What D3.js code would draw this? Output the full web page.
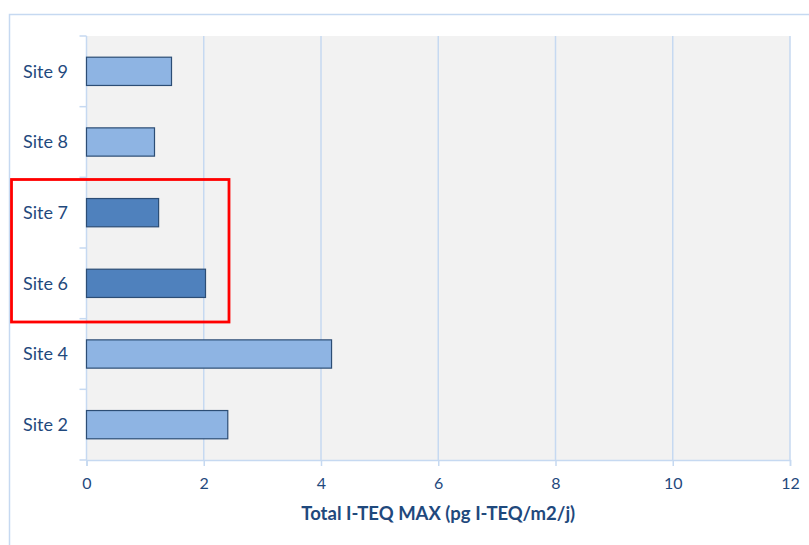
<!DOCTYPE html>
<html>
<head>
<meta charset="utf-8">
<script src="https://cdn.jsdelivr.net/npm/d3@7"></script>
<style>
  body { margin: 0; background: #fff; }
  text { font-family: Lato, "Open Sans", sans-serif; }
</style>
</head>
<body>
<div id="chart"></div>
<script>
// Data
const sites = ["Site 9", "Site 8", "Site 7", "Site 6", "Site 4", "Site 2"];
const values = [1.45, 1.16, 1.23, 2.03, 4.18, 2.41];
const highlighted = ["Site 7", "Site 6"];
const xTicks = [0, 2, 4, 6, 8, 10, 12];
const xTitle = "Total I-TEQ MAX (pg I-TEQ/m2/j)";

const width = 809, height = 545;
const margin = { top: 36, right: 19, bottom: 85, left: 86.5 };
const textColor = "#1F497D";
const lineColor = "#C6D9F1";

const svg = d3.select("#chart").append("svg")
    .attr("width", width)
    .attr("height", height);

// Outer chart border (runs off the right and bottom edges)
svg.append("rect")
    .attr("x", 9.5).attr("y", 14.5)
    .attr("width", width).attr("height", height)
    .attr("fill", "none")
    .attr("stroke", lineColor)
    .attr("stroke-width", 1.5);

const x = d3.scaleLinear().domain([0, 12]).range([margin.left, width - margin.right]);
const y = d3.scaleBand().domain(sites).range([margin.top, height - margin.bottom]).paddingInner(0.6).paddingOuter(0.3);

// Plot background
svg.append("rect")
    .attr("x", x(0)).attr("y", margin.top)
    .attr("width", x(12) - x(0))
    .attr("height", height - margin.bottom - margin.top)
    .attr("fill", "#F2F2F2");

// Vertical gridlines
svg.append("g")
    .selectAll("line")
    .data(xTicks.slice(1))
    .enter().append("line")
    .attr("x1", d => x(d)).attr("x2", d => x(d))
    .attr("y1", margin.top).attr("y2", height - margin.bottom)
    .attr("stroke", lineColor)
    .attr("stroke-width", 1.5);

// X axis
const xAxis = svg.append("g")
    .attr("transform", `translate(0,${height - margin.bottom})`)
    .call(d3.axisBottom(x).tickValues(xTicks).tickSize(6).tickPadding(12));
xAxis.select(".domain").attr("stroke", lineColor).attr("stroke-width", 1.5);
xAxis.selectAll(".tick line").attr("stroke", lineColor).attr("stroke-width", 1.5);
xAxis.selectAll(".tick text")
    .attr("fill", textColor)
    .style("font-size", "16px");

// Y axis: ticks sit between categories
const bandEdges = d3.range(sites.length + 1).map(i => margin.top + i * (height - margin.bottom - margin.top) / sites.length);
const yAxis = svg.append("g");
yAxis.append("line")
    .attr("x1", x(0)).attr("x2", x(0))
    .attr("y1", margin.top).attr("y2", height - margin.bottom)
    .attr("stroke", lineColor).attr("stroke-width", 1.5);
yAxis.selectAll(".ytick")
    .data(bandEdges)
    .enter().append("line")
    .attr("x1", x(0) - 7).attr("x2", x(0))
    .attr("y1", d => d).attr("y2", d => d)
    .attr("stroke", lineColor).attr("stroke-width", 1.5);
yAxis.selectAll(".ylabel")
    .data(sites)
    .enter().append("text")
    .attr("x", 68)
    .attr("y", d => y(d) + y.bandwidth() / 2)
    .attr("dy", "0.35em")
    .attr("text-anchor", "end")
    .attr("fill", textColor)
    .style("font-size", "18px")
    .text(d => d);

// Bars
svg.append("g")
    .selectAll("rect")
    .data(sites)
    .enter().append("rect")
    .attr("x", x(0))
    .attr("y", d => y(d))
    .attr("width", (d, i) => x(values[i]) - x(0))
    .attr("height", y.bandwidth())
    .attr("fill", d => highlighted.includes(d) ? "#4F81BD" : "#8EB4E3")
    .attr("stroke", "#2C4D75")
    .attr("stroke-width", 1.2);

// Axis title
svg.append("text")
    .attr("x", (x(0) + x(12)) / 2)
    .attr("y", 520)
    .attr("text-anchor", "middle")
    .attr("fill", textColor)
    .style("font-size", "18.5px")
    .style("font-weight", "bold")
    .text(xTitle);

// Red highlight box around Site 7 and Site 6
svg.append("rect")
    .attr("x", 11.5)
    .attr("y", 179.5)
    .attr("width", 229 - 11.5)
    .attr("height", 322 - 179.5)
    .attr("fill", "none")
    .attr("stroke", "#FF0000")
    .attr("stroke-width", 2.8);
</script>
</body>
</html>
